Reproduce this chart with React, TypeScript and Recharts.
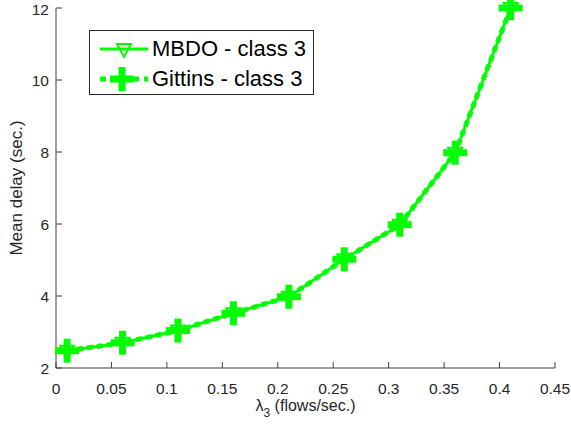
import { LineChart, Line, XAxis, YAxis, Legend } from 'recharts';

const lambda = [0.01, 0.06, 0.11, 0.16, 0.21, 0.26, 0.31, 0.36, 0.41];
const mbdo = [2.48, 2.7, 3.04, 3.52, 3.98, 5.02, 5.98, 7.98, 12.0];
const gittins = [2.48, 2.7, 3.04, 3.52, 3.98, 5.02, 5.98, 7.98, 12.0];
const xTicks = [0, 0.05, 0.1, 0.15, 0.2, 0.25, 0.3, 0.35, 0.4, 0.45];
const yTicks = [2, 4, 6, 8, 10, 12];

const data = lambda.map((x, i) => ({ x, mbdo: mbdo[i], gittins: gittins[i] }));

const GREEN = '#00ff00';
const AXIS = '#404040';
const FONT = '"Liberation Sans", Arial, Helvetica, sans-serif';

const Triangle = ({ cx, cy }: { cx: number; cy: number }) => (
  <path
    d={`M${cx - 7},${cy - 5} L${cx + 7},${cy - 5} L${cx},${cy + 8} Z`}
    fill="none"
    stroke={GREEN}
    strokeWidth={2}
  />
);

const Plus = ({ cx, cy }: { cx: number; cy: number }) => (
  <g>
    <line x1={cx - 12} y1={cy} x2={cx + 12} y2={cy} stroke={GREEN} strokeWidth={7} />
    <line x1={cx} y1={cy - 12} x2={cx} y2={cy + 12} stroke={GREEN} strokeWidth={7} />
  </g>
);

const triDot = (props: any) => <Triangle key={`t${props.index}`} cx={props.cx} cy={props.cy} />;
const plusDot = (props: any) => <Plus key={`p${props.index}`} cx={props.cx} cy={props.cy} />;

const XLabel = (props: any) => {
  const { x, y, width } = props.viewBox;
  return (
    <text x={x + width / 2} y={y + 43} textAnchor="middle" fontSize={16} fill="#262626" fontFamily={FONT}>
      λ
      <tspan fontSize={12} dy={6}>3</tspan>
      <tspan dy={-6}> (flows/sec.)</tspan>
    </text>
  );
};

const YLabel = (props: any) => {
  const { x, y, height } = props.viewBox;
  const cx = x + 16;
  const cy = y + height / 2;
  return (
    <text
      x={cx}
      y={cy}
      transform={`rotate(-90 ${cx} ${cy})`}
      textAnchor="middle"
      dominantBaseline="central"
      fontSize={17}
      fill="#262626"
      fontFamily={FONT}
    >
      Mean delay (sec.)
    </text>
  );
};

const renderLegend = () => (
  <div
    style={{
      border: '1px solid #262626',
      background: '#fff',
      width: 223,
      height: 63,
      boxSizing: 'content-box',
      fontFamily: FONT,
      fontSize: 22,
      color: '#000',
    }}
  >
    <div style={{ display: 'flex', alignItems: 'center', height: 30, marginTop: 3 }}>
      <svg width={62} height={30} style={{ display: 'block' }}>
        <line x1={10} y1={15} x2={58} y2={15} stroke={GREEN} strokeWidth={3} />
        <Triangle cx={34} cy={15} />
      </svg>
      <span>MBDO - class 3</span>
    </div>
    <div style={{ display: 'flex', alignItems: 'center', height: 30 }}>
      <svg width={62} height={30} style={{ display: 'block' }}>
        <line x1={10} y1={15} x2={58} y2={15} stroke={GREEN} strokeWidth={5} strokeDasharray="6 5" />
        <Plus cx={32} cy={15} />
      </svg>
      <span>Gittins - class 3</span>
    </div>
  </div>
);

export default function App() {
  return (
    <div style={{ position: 'absolute', left: 0, top: 0, background: '#fff' }}>
      <LineChart width={571} height={428} data={data} margin={{ top: 8, right: 16, left: 0, bottom: 0 }}>
        <XAxis
          dataKey="x"
          type="number"
          domain={[0, 0.45]}
          ticks={xTicks}
          height={60}
          stroke={AXIS}
          tickSize={-6}
          tickMargin={21}
          tick={{ fill: '#262626', fontSize: 15.5, fontFamily: FONT }}
          label={<XLabel />}
        />
        <XAxis
          xAxisId="top"
          orientation="top"
          dataKey="x"
          type="number"
          domain={[0, 0.45]}
          ticks={xTicks}
          height={0}
          stroke={AXIS}
          tickSize={-6}
          tick={false}
        />
        <YAxis
          type="number"
          domain={[2, 12]}
          ticks={yTicks}
          width={56}
          stroke={AXIS}
          tickSize={-6}
          tickMargin={13}
          tick={{ fill: '#262626', fontSize: 15.5, fontFamily: FONT }}
          label={<YLabel />}
        />
        <YAxis
          yAxisId="right"
          orientation="right"
          type="number"
          domain={[2, 12]}
          ticks={yTicks}
          width={0}
          stroke={AXIS}
          tickSize={-6}
          tick={false}
        />
        <Legend
          verticalAlign="middle"
          align="center"
          content={renderLegend}
          wrapperStyle={{ position: 'absolute', left: 89, top: 30, width: 225, height: 65 }}
        />
        <Line
          dataKey="mbdo"
          name="MBDO - class 3"
          type="linear"
          stroke={GREEN}
          strokeWidth={3}
          dot={triDot}
          activeDot={false}
          isAnimationActive={false}
        />
        <Line
          dataKey="gittins"
          name="Gittins - class 3"
          type="linear"
          stroke={GREEN}
          strokeWidth={5}
          strokeDasharray="6 4"
          dot={plusDot}
          activeDot={false}
          isAnimationActive={false}
        />
      </LineChart>
    </div>
  );
}
